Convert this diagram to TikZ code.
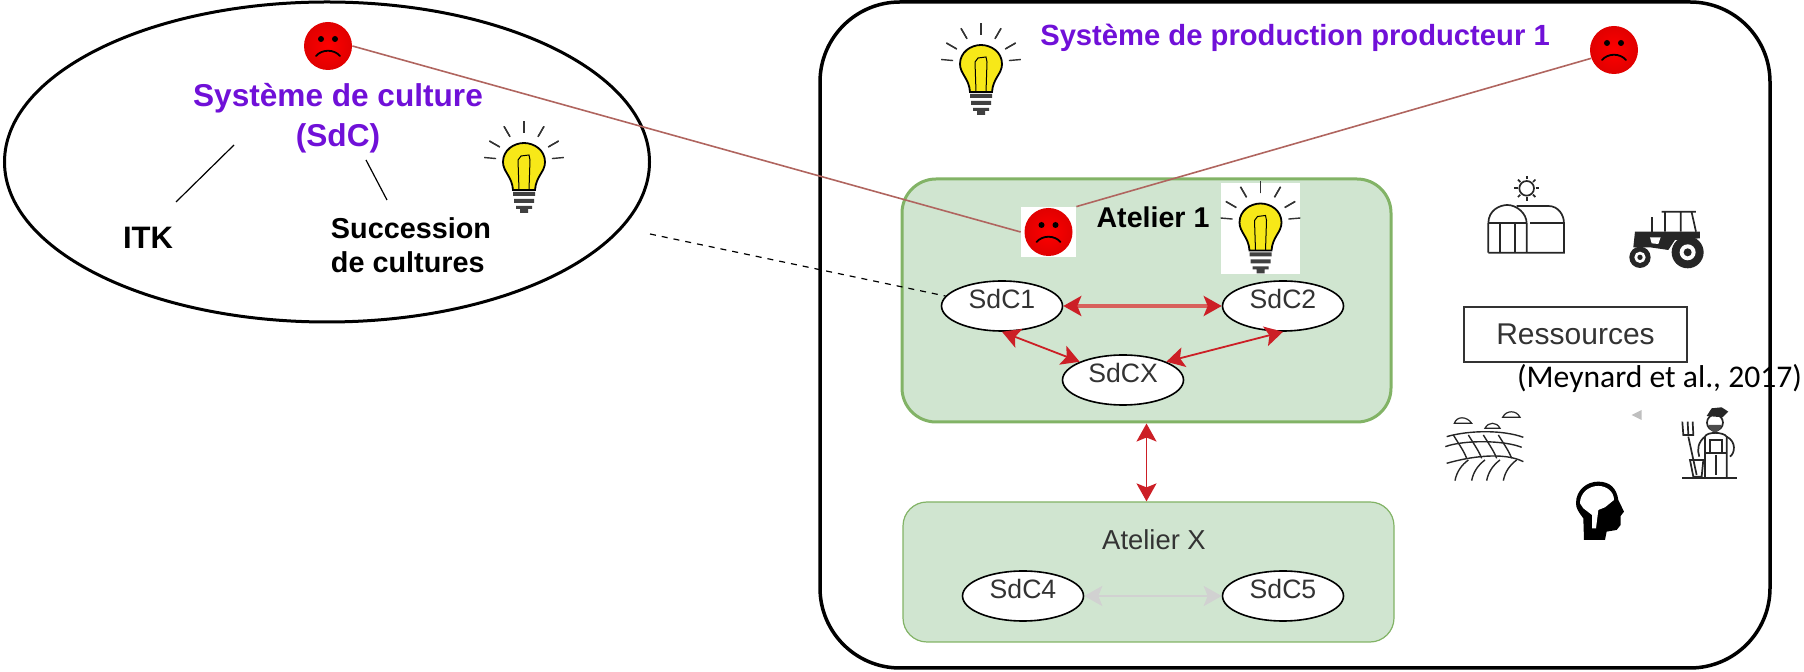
\documentclass[tikz,border=0pt]{standalone}
\usepackage{fontspec}
\setmainfont{Liberation Sans}
\newfontfamily\citefont{Carlito}
\usetikzlibrary{shapes.geometric}
\usetikzlibrary{arrows.meta}
\definecolor{titlepurple}{HTML}{7010D8}
\definecolor{linkred}{HTML}{B0655F}
\definecolor{arrowred}{HTML}{CC1F26}
\definecolor{arrowpink}{HTML}{D8605C}
\definecolor{atelierfill}{HTML}{D0E5D0}
\definecolor{atelierdraw}{HTML}{82B366}
\definecolor{bulbyellow}{HTML}{F7E818}

\begin{document}
\begin{tikzpicture}[
		x=0.5pt, y=-0.5pt,
		node distance=0pt,
		title/.style={text=titlepurple, font=\fontsize{14.6}{20}\bfseries\selectfont, align=center},
		boldtext/.style={font=\fontsize{14.4}{17}\bfseries\selectfont, align=left},
		sdc/.style={ellipse, draw, fill=white, line width=0.8pt, inner sep=0pt, minimum width=60.5pt, minimum height=25pt,
			font=\fontsize{13.3}{16}\selectfont, text=black!80, text height=10pt, text depth=7.5pt},
		atelier/.style={rounded corners=17pt, draw=atelierdraw, fill=atelierfill, line width=1.5pt, inner sep=0pt},
		frown/.style={circle, inner sep=0pt, minimum size=24pt, shading=radial, inner color=red!100!white, outer color=red!88!black,
			path picture={
				\fill[shift={(path picture bounding box.center)}] (-7,-7) circle (3) (7,-7) circle (3);
				\draw[shift={(path picture bounding box.center)}, line width=0.9pt, line cap=round] (-12,10) .. controls (-6,3) and (6,3) .. (12,10);
			}},
		link/.style={draw=linkred, line width=0.8pt},
		redarrow/.style={{Stealth[length=9pt,width=10pt,inset=2pt,color=arrowred]}-{Stealth[length=9pt,width=10pt,inset=2pt,color=arrowred]}, draw=arrowred, line width=0.9pt},
		greyarrow/.style={{Stealth[length=9pt,width=10pt,inset=2pt]}-{Stealth[length=9pt,width=10pt,inset=2pt]}, draw=black!18, line width=1.2pt},
		icon/.style={line width=0.85pt, black!85},
		bulb/.pic={
			\foreach \a in {-60,-30,0,30,60,85} {
				\draw[line width=0.7pt, black!80] (0,-7) ++({\a-90}:28) -- ++({\a-90}:12);
				\draw[line width=0.7pt, black!80] (0,-7) ++({-\a-90}:28) -- ++({-\a-90}:12);
			}
			\draw[fill=bulbyellow, line width=0.9pt] (-11,22) .. controls (-12,8) and (-21,4) .. (-21,-6) .. controls (-21,-18) and (-10,-25) .. (0,-25)
				.. controls (10,-25) and (21,-18) .. (21,-6) .. controls (21,4) and (12,8) .. (11,22) -- cycle;
			\draw[line width=0.5pt] (-5,22) -- (-6,-8) -- (-3,-12) -- (5,-13) -- (6,-8) -- (5,22);
			\fill[black!75] (-11,24) rectangle (11,28) (-10,31) rectangle (10,35) (-8,38) rectangle (8,41) (-4,41) rectangle (4,45);
		}
		]

		\useasboundingbox (0,0) rectangle (1804,672);

		\node[ellipse, draw, line width=1.5pt, inner sep=0pt, minimum width=322.5pt, minimum height=160pt](SdC) at (327,162){};
		\node[draw, rounded corners=40pt, line width=1.75pt, inner sep=0pt, minimum width=475pt, minimum height=333pt](SP) at (1295,335){};
		\node[atelier, minimum width=244.5pt, minimum height=121.5pt](A1) at (1146.5,300.5){};
		\node[atelier, rounded corners=12pt, line width=0.6pt, minimum width=245.5pt, minimum height=70pt](AX) at (1148.5,572){};

		\node[title, font=\fontsize{15.8}{20}\bfseries\selectfont](SdCtitle) at (338,118){Système de culture\\(SdC)};
		\node[boldtext, font=\fontsize{15.5}{17}\bfseries\selectfont](ITK) at (148,238){ITK};
		\node[boldtext](Succ) at (411,245){Succession\\de cultures};
		\node[title](SPtitle) at (1295,38){Système de production producteur 1};
		\node[boldtext, font=\fontsize{14.3}{17}\bfseries\selectfont](A1title) at (1153,217){Atelier 1};
		\node[font=\fontsize{13.7}{16}\selectfont, text=black!80](AXtitle) at (1154,540){Atelier X};

		\node[sdc](S1) at (1002,306){SdC1};
		\node[sdc, right of = S1, node distance=140.5pt](S2){SdC2};
		\node[sdc](S3) at (1123,380){SdCX};
		\node[sdc](S4) at (1023,596){SdC4};
		\node[sdc](S5) at (1283,596){SdC5};

		\node[draw=black!80, line width=0.7pt, inner sep=0pt, minimum width=111.5pt, minimum height=27.5pt,
			font=\fontsize{15}{18}\selectfont, text=black!80](R) at (1575.5,334.5){Ressources};
		\node[font=\fontsize{15.8}{19}\citefont\selectfont](Cite) at (1659.5,378){(Meynard et al., 2017)};

		\node[frown](F1) at (328,46){};
		\node[frown](F2) at (1614,50){};
		\node[fill=white, inner sep=0pt, minimum width=27.5pt, minimum height=25pt](F3box) at (1048.5,232){};
		\node[fill=white, inner sep=0pt, minimum width=39.5pt, minimum height=45.5pt](B3box) at (1260.5,228.5){};

		\draw[link] (F1.east) -- (F3box.west);
		\draw[link] (F2.200) -- (F3box.north east);
		\node[frown](F3) at (F3box.center){};

		\pic at (524,168) {bulb};
		\pic at (981,70) {bulb};
		\pic at (B3box.center) {bulb};

		\coordinate (L1) at (234,145);
		\coordinate (L2) at (176,202);
		\coordinate (L3) at (366,160);
		\coordinate (L4) at (387,200);
		\coordinate (D1) at (650,234);
		\draw[line width=0.6pt] (L1) -- (L2);
		\draw[line width=0.6pt] (L3) -- (L4);
		\draw[dashed, line width=0.6pt] (D1) -- (S1.170);

		\draw[redarrow, line width=1.6pt, draw=arrowpink] (S1) -- (S2);
		\draw[redarrow] (S1.south) -- (S3.north west);
		\draw[redarrow] (S2.south) -- (S3.north east);
		\draw[redarrow] (A1.south) -- (A1.south |- AX.north);
		\draw[greyarrow] (S4) -- (S5);

		\begin{scope}[shift={(1420,160)}, scale=0.3333]
			\draw[icon] (320,85) circle (22);
			\foreach \a in {0,45,...,315} {
				\draw[icon] (320,85) ++(\a:27) -- ++(\a:10);
			}
			\draw[icon] (205,278) -- (205,190) .. controls (205,150) and (240,135) .. (262,135) .. controls (290,135) and (320,160) .. (320,190) -- (320,278);
			\draw[icon] (290,138) -- (385,138) .. controls (415,138) and (432,165) .. (432,190) -- (432,278) -- (205,278);
			\draw[icon] (205,190) -- (320,190) (330,190) -- (432,190);
			\draw[icon] (240,190) -- (240,278) (285,190) -- (285,278);

			\fill[black!85] (803,277) circle (48) (660,292) circle (32);
			\fill[white] (803,277) circle (24) (660,292) circle (17);
			\fill[black!85] (803,277) circle (12) (660,292) circle (8);
			\fill[black!85] (645,215) -- (840,215) -- (840,235) -- (765,240) -- (745,270) -- (690,262) -- (640,262) -- cycle;
			\fill[white] (690,232) -- (722,232) -- (715,252) -- (695,250) -- cycle;
			\draw[icon] (725,155) -- (828,155) (735,157) -- (735,215) (782,157) -- (782,215) (815,157) -- (828,215);
			\draw[icon] (695,172) -- (695,215);

			\draw[icon, line width=0.6pt] (103,790) .. controls (110,768) and (140,768) .. (155,790) -- cycle;
			\draw[icon, line width=0.6pt] (248,772) .. controls (258,750) and (290,750) .. (300,772) -- cycle;
			\draw[icon, line width=0.6pt] (195,805) .. controls (205,785) and (230,785) .. (240,805) -- cycle;
			\draw[icon, line width=0.7pt] (80,830) .. controls (150,810) and (250,810) .. (310,832);
			\draw[icon, line width=0.7pt] (76,860) .. controls (130,840) and (250,840) .. (305,862);
			\draw[icon, line width=0.7pt] (80,910) .. controls (150,890) and (250,875) .. (310,905);
			\foreach \x in {100,145,190,235} {
				\draw[icon, line width=0.7pt] (\x,825) .. controls ({\x+15},850) and ({\x+30},870) .. ({\x+40},895);
			}
			\foreach \x in {105,155,200,250} {
				\draw[icon, line width=0.7pt] (\x,962) .. controls ({\x+5},935) and ({\x+20},915) .. ({\x+40},900);
			}

			\draw[icon] (787,955) -- (952,955);
			\draw[icon] (885,788) circle (24);
			\fill[black!85] (860,768) -- (875,745) -- (905,742) -- (925,755) -- (908,772) -- cycle;
			\fill[black!70] (865,795) .. controls (875,825) and (895,825) .. (905,795) -- cycle;
			\draw[icon] (855,955) -- (855,830) .. controls (860,815) and (910,815) .. (920,830) -- (920,955);
			\draw[icon] (870,840) -- (870,880) -- (905,880) -- (905,840) -- cycle;
			\draw[icon] (855,880) -- (920,880) (888,885) -- (888,945);
			\draw[icon] (920,830) .. controls (950,845) and (945,880) .. (930,890);
			\draw[icon] (855,830) .. controls (835,845) and (830,870) .. (838,890);
			\draw[icon] (805,830) -- (830,945) (787,785) -- (790,825) -- (820,825) -- (818,785) (803,785) -- (805,825);
			\draw[icon] (810,900) -- (850,900) -- (845,950) -- (820,950) -- cycle;

			\fill[black] (492,1140) -- (490,1075) .. controls (475,1055) and (468,1045) .. (468,1030) .. controls (468,990) and (500,965) .. (535,965)
				.. controls (570,965) and (590,985) .. (595,1020) -- (612,1055) -- (602,1068) -- (602,1095) -- (590,1110) -- (560,1115) -- (555,1140) -- cycle;
			\fill[white] (480,1030) .. controls (480,1000) and (505,978) .. (535,978) .. controls (560,978) and (582,995) .. (582,1020)
				-- (555,1042) -- (535,1050) -- (528,1105) -- (516,1105) -- (516,1065) -- (490,1045) -- cycle;

			\fill[black!25] (635,765) -- (665,750) -- (665,780) -- cycle;
		\end{scope}

	\end{tikzpicture}
\end{document}
